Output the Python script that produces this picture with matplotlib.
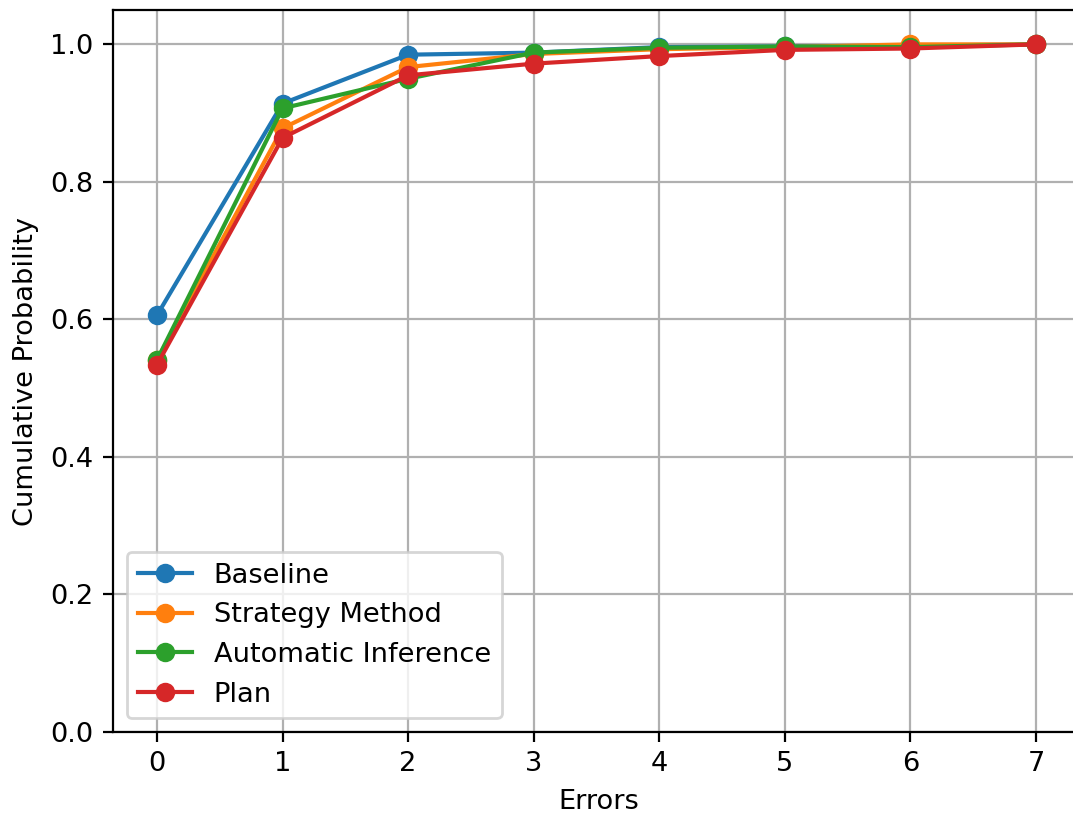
import matplotlib
matplotlib.use("Agg")
import matplotlib.pyplot as plt

errors = [0, 1, 2, 3, 4, 5, 6, 7]
baseline = [0.606, 0.914, 0.985, 0.988, 0.996, 0.997, 0.998, 1.0]
strategy = [0.541, 0.878, 0.967, 0.986, 0.993, 0.996, 1.0, 1.0]
automatic = [0.541, 0.907, 0.950, 0.988, 0.995, 0.997, 0.996, 1.0]
plan = [0.534, 0.864, 0.955, 0.972, 0.983, 0.992, 0.994, 1.0]

plt.rcParams["font.size"] = 9.8

W, H, DPI = 1073, 814, 200
fig = plt.figure(figsize=(W / DPI, H / DPI), dpi=DPI)
# axes runs past the right edge of the canvas, so its right spine is cut off
ax = fig.add_axes([113 / W, 1 - 732 / H, (1085 - 113) / W, (732 - 10) / H])

ax.plot(errors, baseline, marker="o", label="Baseline")
ax.plot(errors, strategy, marker="o", label="Strategy Method")
ax.plot(errors, automatic, marker="o", label="Automatic Inference")
ax.plot(errors, plan, marker="o", label="Plan")

ax.set_xlabel("Errors")
ax.set_ylabel("Cumulative Probability")
ax.set_xlim(-0.35, 7.39)
ax.set_ylim(0, 1.05)
ax.set_xticks(errors)
ax.legend(loc="lower left")
ax.grid(True)

fig.savefig("out.png", dpi=DPI)
